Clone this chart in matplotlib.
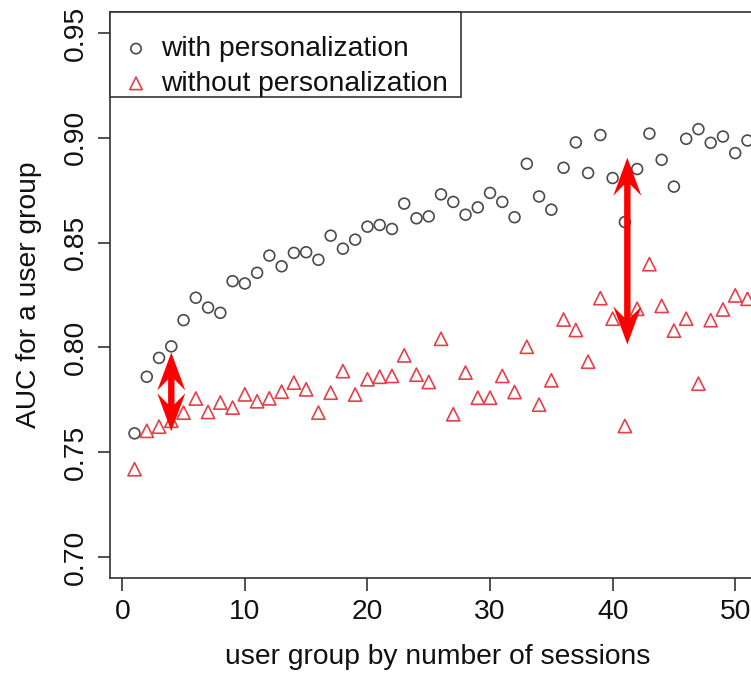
import matplotlib
matplotlib.use("Agg")
import matplotlib.pyplot as plt
from matplotlib.patches import Polygon, Rectangle
from matplotlib.transforms import IdentityTransform
import numpy as np

plt.rcParams['font.family'] = ['Liberation Sans', 'DejaVu Sans']

# ---- data ----
groups = list(range(1, 52))
with_personalization = [
    0.759, 0.786, 0.795, 0.8005, 0.813, 0.8237, 0.819, 0.8165, 0.8316, 0.8305,
    0.8356, 0.8438, 0.8387, 0.8451, 0.8454, 0.8418, 0.8533, 0.8471, 0.8514, 0.8576,
    0.8584, 0.8565, 0.8686, 0.8616, 0.8625, 0.873, 0.8694, 0.8633, 0.8668, 0.8737,
    0.8694, 0.8621, 0.8876, 0.872, 0.8657, 0.8857, 0.8978, 0.8832, 0.9013, 0.8808,
    0.8598, 0.8851, 0.902, 0.8895, 0.8767, 0.8995, 0.9041, 0.8976, 0.9006, 0.8927,
    0.8987]
without_personalization = [
    0.7419, 0.7602, 0.7622, 0.765, 0.7689, 0.7756, 0.7692, 0.7737, 0.7713, 0.7776,
    0.7743, 0.7757, 0.7789, 0.7832, 0.780, 0.7689, 0.7784, 0.7887, 0.7775, 0.7848,
    0.786, 0.7864, 0.7962, 0.787, 0.7835, 0.8041, 0.7681, 0.788, 0.776, 0.776,
    0.7864, 0.7787, 0.8003, 0.7727, 0.7843, 0.8133, 0.8083, 0.7932, 0.8235, 0.8137,
    0.7625, 0.8184, 0.8397, 0.8198, 0.808, 0.8137, 0.7827, 0.813, 0.8181, 0.8248,
    0.8232]
x_ticks = [0, 10, 20, 30, 40, 50]
y_ticks = [0.70, 0.75, 0.80, 0.85, 0.90, 0.95]
y_tick_labels = ["0.70", "0.75", "0.80", "0.85", "0.90", "0.95"]

# annotation arrows (x, top, bottom)
arrow_x = [4, 41.2]
arrow_top = [0.7976, 0.8905]
arrow_bottom = [0.760, 0.8014]

FS = 20.3
W, H = 751, 673
fig = plt.figure(figsize=(W / 100, H / 100), dpi=100)
ax = fig.add_axes([110 / W, (H - 578) / H, (772 - 110) / W, (578 - 12) / H])

ax.scatter(groups, with_personalization, s=7.8 ** 2, marker='o', facecolors='none',
           edgecolors='#4a4a4a', linewidths=1.2, label='with personalization', zorder=3)
ax.scatter(groups, without_personalization, s=9.5 ** 2, marker='^', facecolors='none',
           edgecolors='#e5404a', linewidths=1.2, label='without personalization', zorder=3)

ax.set_xlim(-1, 53)
ax.set_ylim(0.69, 0.96)
ax.set_xticks(x_ticks)
ax.set_yticks(y_ticks)
ax.set_yticklabels(y_tick_labels)

for sp in ax.spines.values():
    sp.set_color('#333333')
    sp.set_linewidth(1.2)

ax.tick_params(axis='both', direction='out', length=9, width=1.2, color='#333333',
               labelsize=FS, pad=6, labelcolor='#111111')
for lab in ax.get_yticklabels():
    lab.set_rotation(90)
    lab.set_va('center')

ax.set_xlabel('user group by number of sessions', fontsize=FS, color='#111111')
ax.set_ylabel('AUC for a user group', fontsize=FS, color='#111111')
ax.xaxis.set_label_coords((438 - 110) / 662, -(657 - 578) / 566)
ax.xaxis.label.set_va('center')
ax.yaxis.set_label_coords((29.5 - 110) / 662, 0.5)
ax.yaxis.label.set_va('center')

# legend (frame drawn separately, underneath the legend)
em = FS * 100 / 72.0
hl = 0.6
anchor_x = 136 - hl * em / 2
frame = Rectangle((110 / W, (H - 97) / H), (461 - 110) / W, (97 - 12) / H,
                  transform=fig.transFigure, facecolor='white', edgecolor='#333333',
                  linewidth=1.2, zorder=4, clip_on=False)
ax.add_patch(frame)
leg = ax.legend(loc='upper left',
                bbox_to_anchor=(anchor_x / W, (H - 36) / H),
                bbox_transform=fig.transFigure, borderaxespad=0, borderpad=0,
                fontsize=FS, frameon=False,
                handletextpad=(161 - anchor_x - hl * em) / em, handlelength=hl,
                labelspacing=0.31, markerscale=0.95)
leg.set_zorder(6)
for t in leg.get_texts():
    t.set_color('#111111')

# double-headed red arrows drawn in display pixels
fig.canvas.draw()
L, HW, NOTCH, SW = 38, 14, 11, 3.2
for xa, yt, yb in zip(arrow_x, arrow_top, arrow_bottom):
    cx, ty = ax.transData.transform((xa, yt))
    _, by = ax.transData.transform((xa, yb))
    verts = [
        (cx, ty), (cx + HW, ty - L), (cx + SW, ty - L + NOTCH),
        (cx + SW, by + L - NOTCH), (cx + HW, by + L), (cx, by),
        (cx - HW, by + L), (cx - SW, by + L - NOTCH),
        (cx - SW, ty - L + NOTCH), (cx - HW, ty - L),
    ]
    p = Polygon(verts, closed=True, facecolor='#ff0000', edgecolor='none',
                transform=IdentityTransform(), clip_on=False, zorder=5)
    fig.add_artist(p)

fig.savefig('out.png', dpi=100)
